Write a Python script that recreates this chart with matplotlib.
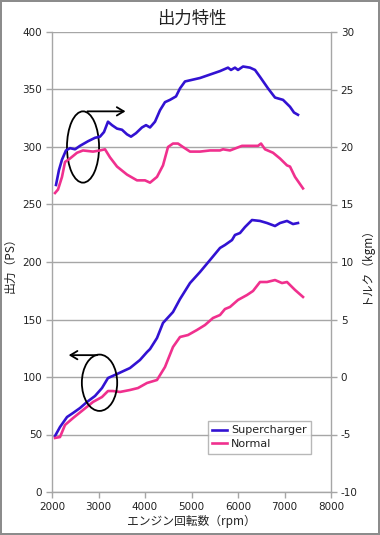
import matplotlib
matplotlib.use("Agg")
import matplotlib.pyplot as plt
from matplotlib.patches import Ellipse, FancyArrowPatch

plt.rcParams['font.family'] = ['DejaVu Sans', 'Noto Sans CJK JP']
plt.rcParams['axes.unicode_minus'] = False

# ---- data ----
sc_torque_rpm = [2086, 2150, 2215, 2300, 2387, 2495, 2602, 2774, 2925, 3032, 3118, 3204, 3290, 3398, 3505,
                 3613, 3699, 3806, 3935, 4022, 4108, 4215, 4323, 4430, 4538, 4667, 4753, 4860, 4968, 5183,
                 5398, 5613, 5785, 5849, 5935, 6000, 6108, 6258, 6366, 6473, 6645, 6796, 6968, 7118, 7204, 7290]
sc_torque = [16.7, 18.0, 18.9, 19.7, 19.9, 19.8, 20.1, 20.5, 20.8, 20.9, 21.3, 22.2, 21.9, 21.6, 21.5,
             21.1, 20.9, 21.2, 21.7, 21.9, 21.7, 22.2, 23.2, 23.9, 24.1, 24.4, 25.1, 25.7, 25.8, 26.0,
             26.3, 26.6, 26.9, 26.7, 26.9, 26.7, 27.0, 26.9, 26.7, 26.1, 25.1, 24.3, 24.1, 23.5, 23.0, 22.8]

nm_torque_rpm = [2065, 2129, 2215, 2280, 2387, 2538, 2667, 2882, 3032, 3140, 3247, 3398, 3613, 3828, 4000,
                 4108, 4258, 4387, 4495, 4602, 4710, 4817, 4968, 5183, 5398, 5613, 5677, 5828, 6086, 6258,
                 6430, 6495, 6581, 6753, 6903, 7054, 7118, 7226, 7398]
nm_torque = [16.0, 16.3, 17.4, 18.7, 19.0, 19.5, 19.7, 19.6, 19.7, 19.8, 19.1, 18.3, 17.6, 17.1, 17.1,
             16.9, 17.4, 18.4, 20.0, 20.3, 20.3, 20.0, 19.6, 19.6, 19.7, 19.7, 19.8, 19.7, 20.1, 20.1,
             20.1, 20.3, 19.8, 19.5, 19.0, 18.4, 18.3, 17.4, 16.4]

sc_power_rpm = [2065, 2172, 2323, 2452, 2602, 2753, 2925, 3075, 3204, 3398, 3677, 3892, 4043, 4108, 4258,
                4387, 4602, 4753, 4968, 5183, 5398, 5613, 5720, 5871, 5935, 6043, 6151, 6301, 6473, 6624,
                6796, 6903, 7054, 7183, 7290]
sc_power = [48.7, 56.5, 65.2, 68.7, 73.0, 78.3, 83.5, 90.4, 99.1, 102.6, 107.8, 114.8, 121.7, 124.3, 133.9,
            147.0, 156.5, 167.8, 181.7, 191.3, 201.7, 212.2, 214.8, 219.1, 223.5, 225.2, 230.4, 236.5, 235.7, 233.9,
            231.3, 233.9, 235.7, 233.0, 233.9]

nm_power_rpm = [2065, 2172, 2280, 2452, 2667, 2882, 3075, 3204, 3312, 3462, 3677, 3849, 4043, 4258, 4430,
                4602, 4753, 4925, 5118, 5290, 5462, 5613, 5720, 5828, 6000, 6194, 6323, 6473, 6624, 6796,
                6946, 7054, 7226, 7398]
nm_power = [47.0, 47.8, 58.3, 64.3, 71.3, 78.3, 82.6, 87.8, 87.8, 87.0, 88.7, 90.4, 94.8, 97.4, 108.7,
            126.1, 134.8, 136.5, 140.9, 145.2, 151.3, 153.9, 159.1, 160.9, 167.0, 171.3, 174.8, 182.6, 182.6, 184.3,
            181.7, 182.6, 175.7, 169.6]

series_names = ["Supercharger", "Normal"]
title = "出力特性"
xlabel = "エンジン回転数（rpm）"
ylabel_left = "出力（PS）"
ylabel_right = "トルク（kgm）"

BLUE = "#3212D2"
PINK = "#F0308E"
GRID = "#A6A6A6"
TXT = "#222222"
CJK = ['Noto Sans CJK JP', 'DejaVu Sans']

fig = plt.figure(figsize=(3.8, 5.35), dpi=100)
fig.patch.set_edgecolor("#8c8c8c")
fig.patch.set_linewidth(1.5)
ax = fig.add_axes([52/380, 1-492/535, (331-52)/380, (492-32)/535])
ax2 = ax.twinx()

lw = 1.9
l1, = ax.plot(sc_power_rpm, sc_power, color=BLUE, lw=lw, label=series_names[0], solid_joinstyle='round')
l2, = ax.plot(nm_power_rpm, nm_power, color=PINK, lw=lw, label=series_names[1], solid_joinstyle='round')
ax2.plot(sc_torque_rpm, sc_torque, color=BLUE, lw=lw, solid_joinstyle='round')
ax2.plot(nm_torque_rpm, nm_torque, color=PINK, lw=lw, solid_joinstyle='round')

ax.set_xlim(2000, 8000)
ax.set_ylim(0, 400)
ax2.set_ylim(-10, 30)
ax.set_xticks(range(2000, 8001, 1000))
ax.set_yticks(range(0, 401, 50))
ax2.set_yticks(range(-10, 31, 5))

ax.yaxis.grid(True, color=GRID, lw=1.0)
ax.set_axisbelow(True)

for a in (ax, ax2):
    for s in a.spines.values():
        s.set_color(GRID)
        s.set_linewidth(1.0)
    a.spines['top'].set_visible(False)
    a.tick_params(axis='both', colors=GRID, labelcolor=TXT, labelsize=7.5, length=4, width=1.0,
                  direction='out', pad=3)
ax.spines['right'].set_visible(False)
ax2.spines['left'].set_visible(False)
ax2.spines['bottom'].set_visible(False)

ax.set_title(title, fontsize=12.5, color=TXT, pad=6, family=CJK)
ax.set_xlabel(xlabel, fontsize=8.5, color=TXT, family=CJK, labelpad=2)
ax.set_ylabel(ylabel_left, fontsize=8.5, color=TXT, family=CJK, labelpad=4)
ax2.set_ylabel(ylabel_right, fontsize=8.5, color=TXT, family=CJK, labelpad=1, rotation=90)

# annotations (ellipses and arrows)
ax.add_patch(Ellipse((2667, 300), 690, 62, fill=False, ec='black', lw=1.3, zorder=5))
ax.add_patch(FancyArrowPatch((2700, 331), (3640, 331), arrowstyle='->,head_length=5,head_width=3',
                             color='black', lw=1.3, zorder=5))
ax.add_patch(Ellipse((3022, 95), 760, 49, fill=False, ec='black', lw=1.3, zorder=5))
ax.add_patch(FancyArrowPatch((3030, 119), (2300, 119), arrowstyle='->,head_length=5,head_width=3',
                             color='black', lw=1.3, zorder=5))

leg = ax.legend(handles=[l1, l2], loc='upper left', bbox_to_anchor=((208-52)/279, (492-421)/460),
                fontsize=8, frameon=True, fancybox=False, edgecolor=GRID, handlelength=1.3,
                handletextpad=0.4, borderpad=0.4, labelspacing=0.35, borderaxespad=0)
leg.get_frame().set_linewidth(1.0)
for t in leg.get_texts():
    t.set_color(TXT)
leg.set_zorder(10)

fig.savefig("out.png", dpi=100)
